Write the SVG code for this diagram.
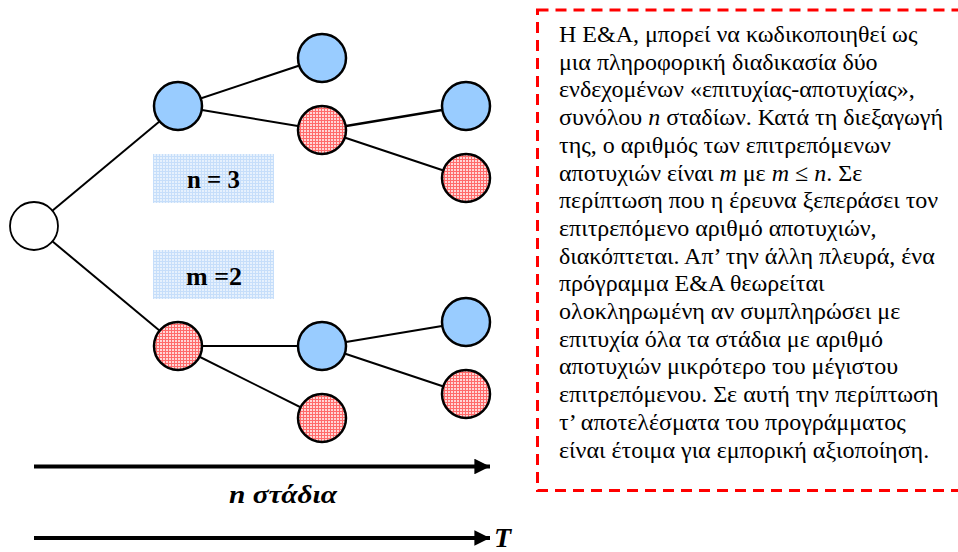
<svg xmlns="http://www.w3.org/2000/svg" width="958" height="552" viewBox="0 0 958 552">
<defs>
<pattern id="redp" width="3" height="3" patternUnits="userSpaceOnUse">
<rect width="3" height="3" fill="#ffd6d6"/>
<rect width="3" height="1" fill="#ff6a6a"/>
<rect width="1" height="3" fill="#ff6a6a"/>
</pattern>
<pattern id="bluep" width="3" height="3" patternUnits="userSpaceOnUse">
<rect width="3" height="3" fill="#e6f1fd"/>
<rect width="3" height="1" fill="#c6defa"/>
<rect width="1" height="3" fill="#c6defa"/>
</pattern>
<marker id="ah" viewBox="0 0 10 10" refX="10" refY="5" markerWidth="4.3" markerHeight="3.9" orient="auto" markerUnits="strokeWidth">
<path d="M0,0 L10,5 L0,10 Z" fill="#000"/>
</marker>
</defs>
<style>
.nd{stroke:#000;stroke-width:2.5}
.blue{fill:#99ccff}
.red{fill:url(#redp)}
.white{fill:#fff;stroke-width:1.8}
.ed{stroke:#000;stroke-width:2;fill:none}
.ax{stroke:#000;stroke-width:4;fill:none}
</style>
<g id="connectors">
<line class="ed" x1="34" y1="226" x2="178" y2="106"/>
<line class="ed" x1="34" y1="226" x2="178" y2="346"/>
<line class="ed" x1="178" y1="106" x2="322" y2="58"/>
<line class="ed" x1="178" y1="106" x2="322" y2="130"/>
<line class="ed" x1="322" y1="130" x2="466" y2="106" style="stroke-width:2.6"/>
<line class="ed" x1="322" y1="130" x2="466" y2="178"/>
<line class="ed" x1="178" y1="346" x2="322" y2="346"/>
<line class="ed" x1="178" y1="346" x2="322" y2="418"/>
<line class="ed" x1="322" y1="346" x2="466" y2="322"/>
<line class="ed" x1="322" y1="346" x2="466" y2="394"/>
</g>
<g id="root"><circle class="nd white" cx="34" cy="226" r="24"/></g>
<g id="n1"><circle class="nd blue" cx="178" cy="106" r="24"/></g>
<g id="n2"><circle class="nd blue" cx="322" cy="58" r="24"/></g>
<g id="n3"><circle class="nd red" cx="322" cy="130" r="24"/></g>
<g id="n4"><circle class="nd blue" cx="466" cy="106" r="24"/></g>
<g id="n5"><circle class="nd red" cx="466" cy="178" r="24"/></g>
<g id="n6"><circle class="nd red" cx="178" cy="346" r="24"/></g>
<g id="n7"><circle class="nd blue" cx="322" cy="346" r="24"/></g>
<g id="n8"><circle class="nd red" cx="322" cy="418" r="24"/></g>
<g id="n9"><circle class="nd blue" cx="466" cy="322" r="24"/></g>
<g id="n10"><circle class="nd red" cx="466" cy="394" r="24"/></g>
<g id="label-n">
<rect x="153" y="154" width="121" height="49" fill="url(#bluep)"/>
<text x="187" y="188" font-family="'Liberation Serif', serif" font-weight="bold" font-size="25" textLength="53" lengthAdjust="spacingAndGlyphs">n = 3</text>
</g>
<g id="label-m">
<rect x="153" y="250" width="121" height="49" fill="url(#bluep)"/>
<text x="186" y="285" font-family="'Liberation Serif', serif" font-weight="bold" font-size="25" textLength="56" lengthAdjust="spacingAndGlyphs">m =2</text>
</g>
<g id="axis-n">
<line class="ax" x1="34" y1="466.5" x2="490" y2="466.5" marker-end="url(#ah)"/>
<text x="229" y="503" font-family="'Liberation Serif', serif" font-weight="bold" font-style="italic" font-size="25" textLength="108" lengthAdjust="spacingAndGlyphs">n στάδια</text>
</g>
<g id="axis-t">
<line class="ax" x1="34" y1="538" x2="490" y2="538" marker-end="url(#ah)"/>
<text x="494" y="547" font-family="'Liberation Serif', serif" font-weight="bold" font-style="italic" font-size="28">T</text>
</g>
<g id="note">
<rect x="537.5" y="10" width="440" height="480.5" fill="none" stroke="#ff0000" stroke-width="3" stroke-dasharray="11,7"/>
<text x="559" y="42" font-family="'Liberation Serif', serif" font-size="24">Η Ε&amp;Α, μπορεί να κωδικοποιηθεί ως</text>
<text x="559" y="69.7" font-family="'Liberation Serif', serif" font-size="24">μια πληροφορική διαδικασία δύο</text>
<text x="559" y="97.4" font-family="'Liberation Serif', serif" font-size="24">ενδεχομένων «επιτυχίας-αποτυχίας»,</text>
<text x="559" y="125.1" font-family="'Liberation Serif', serif" font-size="24">συνόλου <tspan font-style="italic">n</tspan> σταδίων. Κατά τη διεξαγωγή</text>
<text x="559" y="152.8" font-family="'Liberation Serif', serif" font-size="24">της, ο αριθμός των επιτρεπόμενων</text>
<text x="559" y="180.5" font-family="'Liberation Serif', serif" font-size="24">αποτυχιών είναι <tspan font-style="italic">m</tspan> με <tspan font-style="italic">m</tspan> ≤ <tspan font-style="italic">n</tspan>. Σε</text>
<text x="559" y="208.2" font-family="'Liberation Serif', serif" font-size="24">περίπτωση που η έρευνα ξεπεράσει τον</text>
<text x="559" y="235.9" font-family="'Liberation Serif', serif" font-size="24">επιτρεπόμενο αριθμό αποτυχιών,</text>
<text x="559" y="263.6" font-family="'Liberation Serif', serif" font-size="24">διακόπτεται. Απ’ την άλλη πλευρά, ένα</text>
<text x="559" y="291.3" font-family="'Liberation Serif', serif" font-size="24">πρόγραμμα Ε&amp;Α θεωρείται</text>
<text x="559" y="319" font-family="'Liberation Serif', serif" font-size="24">ολοκληρωμένη αν συμπληρώσει με</text>
<text x="559" y="346.7" font-family="'Liberation Serif', serif" font-size="24">επιτυχία όλα τα στάδια με αριθμό</text>
<text x="559" y="374.4" font-family="'Liberation Serif', serif" font-size="24">αποτυχιών μικρότερο του μέγιστου</text>
<text x="559" y="402.1" font-family="'Liberation Serif', serif" font-size="24">επιτρεπόμενου. Σε αυτή την περίπτωση</text>
<text x="559" y="429.8" font-family="'Liberation Serif', serif" font-size="24">τ’ αποτελέσματα του προγράμματος</text>
<text x="559" y="457.5" font-family="'Liberation Serif', serif" font-size="24">είναι έτοιμα για εμπορική αξιοποίηση.</text>
</g>
</svg>
